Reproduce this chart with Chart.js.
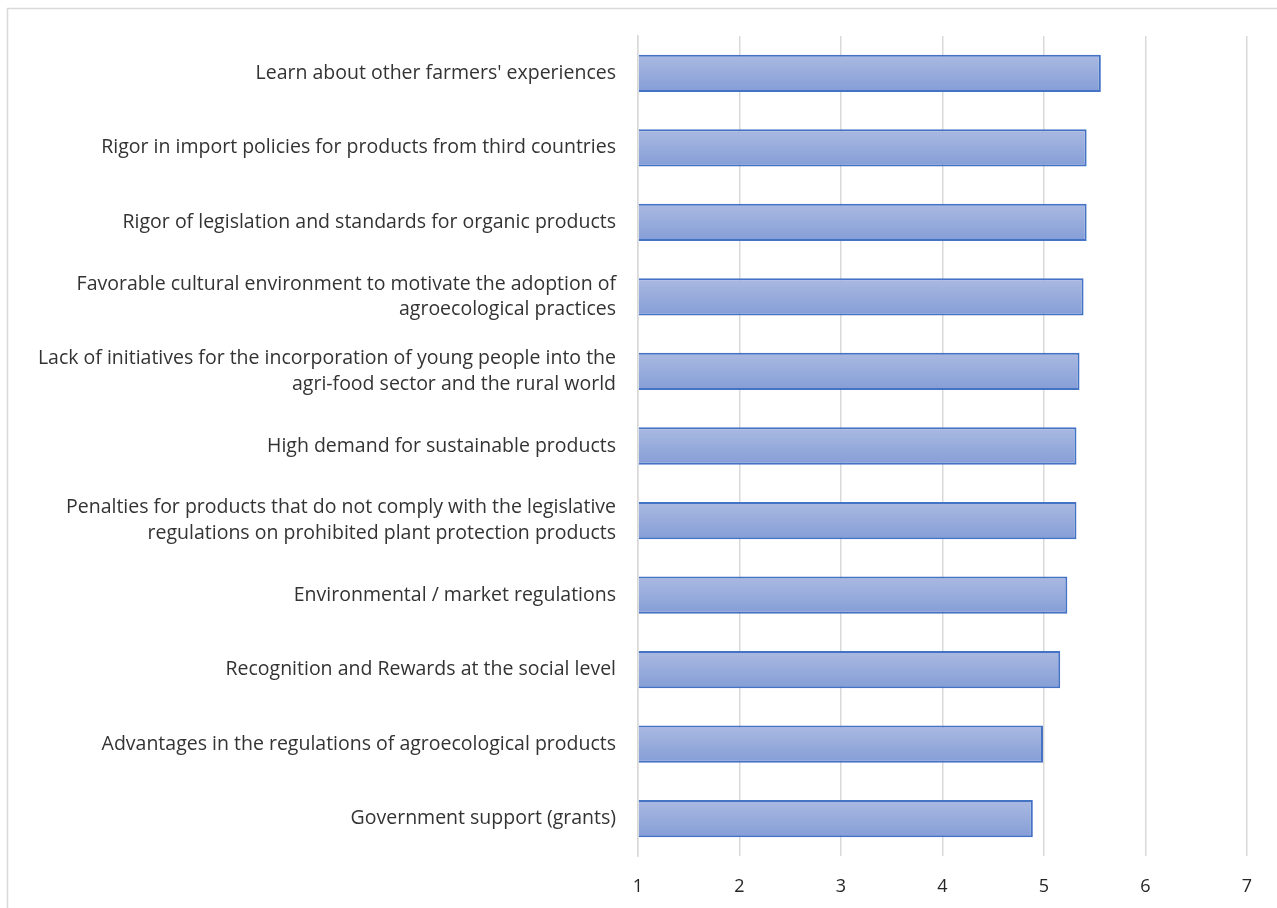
<!DOCTYPE html>
<html>
<head>
<meta charset="utf-8">
<script src="https://cdn.jsdelivr.net/npm/chart.js@4/dist/chart.umd.min.js"></script>
<style>
  html, body { margin: 0; padding: 0; background: #fff; }
  #wrap { width: 1277px; height: 908px; }
</style>
</head>
<body>
<div id="wrap"><canvas id="chart" width="1277" height="908"></canvas></div>
<script>
'use strict';

var labels = [
  'Learn about other farmers\' experiences',
  'Rigor in import policies for products from third countries',
  'Rigor of legislation and standards for organic products',
  ['Favorable cultural environment to motivate the adoption of', 'agroecological practices'],
  ['Lack of initiatives for the incorporation of young people into the', 'agri-food sector and the rural world'],
  'High demand for sustainable products',
  ['Penalties for products that do not comply with the legislative', 'regulations on prohibited plant protection products'],
  'Environmental / market regulations',
  'Recognition and Rewards at the social level',
  'Advantages in the regulations of agroecological products',
  'Government support (grants)'
];

var scores = [5.56, 5.42, 5.42, 5.39, 5.35, 5.32, 5.32, 5.23, 5.16, 4.99, 4.89];

var xTicks = [1, 2, 3, 4, 5, 6, 7];

var ctx = document.getElementById('chart').getContext('2d');

// light frame around the whole figure
var framePlugin = {
  id: 'frame',
  beforeDraw: function (chart) {
    var c = chart.ctx;
    c.save();
    c.strokeStyle = '#d9d9d9';
    c.lineWidth = 1.5;
    c.strokeRect(7.5, 8.5, 1400, 1000);
    c.restore();
  }
};

// vertical gradient inside each bar
var gradientPlugin = {
  id: 'barGradient',
  beforeDatasetsDraw: function (chart) {
    var c = chart.ctx;
    chart.getDatasetMeta(0).data.forEach(function (bar) {
      var top = bar.y - bar.height / 2;
      var g = c.createLinearGradient(0, top, 0, top + bar.height);
      g.addColorStop(0, '#aab9e1');
      g.addColorStop(1, '#859ed7');
      bar.options.backgroundColor = g;
    });
  }
};

new Chart(ctx, {
  type: 'bar',
  data: {
    labels: labels,
    datasets: [{
      data: scores,
      // scriptable so every bar keeps its own options object
      backgroundColor: function () { return '#9aaedd'; },
      borderColor: '#4472c4',
      borderWidth: 2,
      categoryPercentage: 1,
      barPercentage: 0.5,
      base: 1
    }]
  },
  options: {
    indexAxis: 'y',
    responsive: false,
    animation: false,
    layout: { padding: { top: 36, right: 30, left: 0, bottom: 0 } },
    plugins: {
      legend: { display: false },
      tooltip: { enabled: false }
    },
    scales: {
      x: {
        min: 1,
        max: 7,
        afterBuildTicks: function (scale) {
          scale.ticks = xTicks.map(function (v) { return { value: v }; });
        },
        afterFit: function (scale) { scale.height = 52; },
        grid: { color: '#d9d9d9', lineWidth: 1.5, drawTicks: false },
        border: { display: false },
        ticks: {
          padding: 20,
          color: '#262626',
          font: { family: 'Open Sans', size: 18 }
        }
      },
      y: {
        afterFit: function (scale) { scale.width = 638; },
        grid: { display: false, drawTicks: false },
        border: { color: '#d9d9d9', width: 1.5 },
        ticks: {
          padding: 22,
          color: '#333333',
          font: { family: 'Open Sans', size: 19.5, lineHeight: 1.33 }
        }
      }
    }
  },
  plugins: [framePlugin, gradientPlugin]
});
</script>
</body>
</html>
